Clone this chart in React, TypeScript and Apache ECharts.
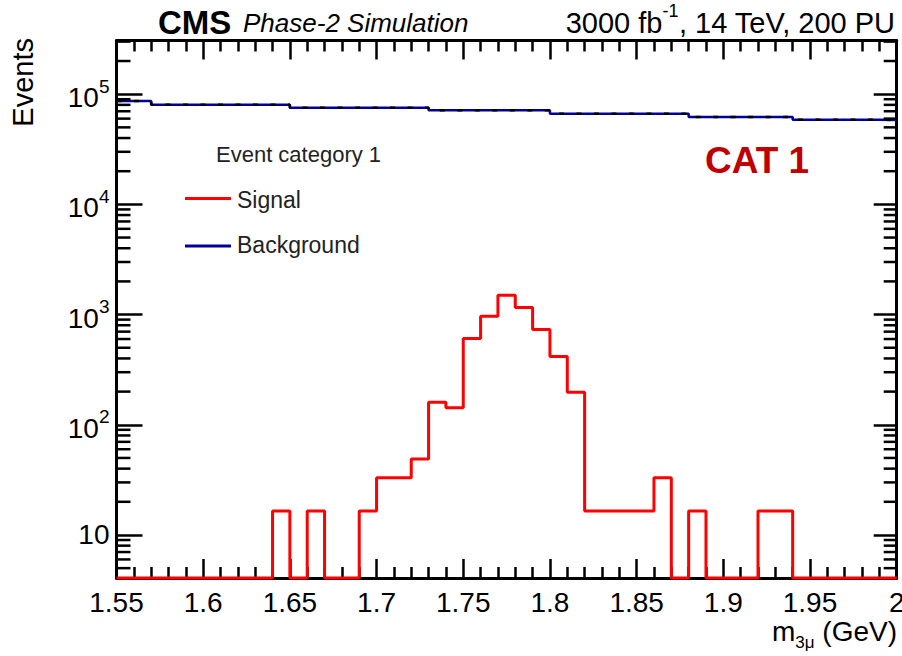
import React, { useEffect, useRef } from 'react';
import * as echarts from 'echarts';

// Bin edges (GeV), 0.01 wide bins from 1.55 to 2.00
const binEdges: number[] = [
  1.55, 1.56, 1.57, 1.58, 1.59, 1.6, 1.61, 1.62, 1.63, 1.64,
  1.65, 1.66, 1.67, 1.68, 1.69, 1.7, 1.71, 1.72, 1.73, 1.74,
  1.75, 1.76, 1.77, 1.78, 1.79, 1.8, 1.81, 1.82, 1.83, 1.84,
  1.85, 1.86, 1.87, 1.88, 1.89, 1.9, 1.91, 1.92, 1.93, 1.94,
  1.95, 1.96, 1.97, 1.98, 1.99, 2.0,
];

// Signal events per bin (45 bins)
const signalValues: number[] = [
  0, 0, 0, 0, 0, 0, 0, 0, 0, 16.5,
  0, 16.5, 0, 0, 16.5, 33, 33, 49, 160, 143,
  607, 966, 1500, 1160, 733, 417, 197, 16.5, 16.5, 16.5,
  16.5, 33, 0, 16.5, 0, 0, 0, 16.5, 16.5, 0,
  0, 0, 0, 0, 0,
];

// Background events per bin (45 bins)
const backgroundValues: number[] = [
  86500, 86500, 80300, 80300, 80300, 80300, 80300, 80300, 80300, 80300,
  75500, 75500, 75500, 75500, 75500, 75500, 75500, 75500, 71300, 71300,
  71300, 71300, 71300, 71300, 71300, 66500, 66500, 66500, 66500, 66500,
  66500, 66500, 66500, 62000, 62000, 62000, 62000, 62000, 62000, 58700,
  58700, 58700, 58700, 58700, 58200,
];

const xTickLabels: string[] = ['1.55', '1.6', '1.65', '1.7', '1.75', '1.8', '1.85', '1.9', '1.95', '2'];

const X_MIN = 1.55;
const X_MAX = 2.0;
const Y_MIN = 4.07;
const Y_MAX = 307000;

const FONT = "'Liberation Sans', Arial, Helvetica, sans-serif";

function stepData(values: number[]): number[][] {
  const pts: number[][] = values.map((v, i) => [binEdges[i], v > 0 ? v : Y_MIN]);
  const last = values[values.length - 1];
  pts.push([binEdges[binEdges.length - 1], last > 0 ? last : Y_MIN]);
  return pts;
}

function minorLogTicks(): number[] {
  const out: number[] = [];
  for (let d = 0; d <= 5; d++) {
    for (let m = 2; m <= 9; m++) {
      const v = m * Math.pow(10, d);
      if (v > Y_MIN && v < Y_MAX) out.push(v);
    }
  }
  return out;
}

export default function App() {
  const ref = useRef<HTMLDivElement>(null);

  useEffect(() => {
    if (!ref.current) return;
    const chart = echarts.init(ref.current, undefined, { renderer: 'svg' });

    const xAxisCommon = {
      type: 'value',
      min: X_MIN,
      max: X_MAX,
      interval: 0.05,
      splitLine: { show: false },
      axisLine: { show: true, onZero: false, lineStyle: { color: '#000', width: 3 } },
      axisTick: { show: true, inside: true, length: 19, lineStyle: { color: '#000', width: 2.5 } },
      minorTick: { show: true, splitNumber: 5, length: 11, lineStyle: { color: '#000', width: 2.5 } },
      minorSplitLine: { show: false },
    };

    const yAxisCommon = {
      type: 'log',
      logBase: 10,
      min: Y_MIN,
      max: Y_MAX,
      splitLine: { show: false },
      axisLine: { show: true, onZero: false, lineStyle: { color: '#000', width: 3 } },
      minorTick: { show: false },
    };

    const labelFor = (v: number) => {
      const idx = Math.round((v - X_MIN) / 0.05);
      if (Math.abs(v - (X_MIN + idx * 0.05)) > 1e-6) return '';
      return xTickLabels[idx] ?? '';
    };

    chart.setOption({
      animation: false,
      backgroundColor: '#ffffff',
      grid: {
        left: 116.5,
        top: 40.5,
        width: 780.2,
        height: 537.5,
        containLabel: false,
        outerBoundsMode: 'none',
      },
      xAxis: [
        {
          ...xAxisCommon,
          position: 'bottom',
          axisLabel: {
            show: true,
            margin: 10,
            color: '#000',
            fontFamily: FONT,
            fontSize: 28,
            formatter: labelFor,
          },
        },
        {
          ...xAxisCommon,
          position: 'top',
          axisLabel: { show: false },
        },
      ],
      yAxis: [
        {
          ...yAxisCommon,
          position: 'left',
          axisTick: { show: true, inside: true, length: 26, lineStyle: { color: '#000', width: 2.5 } },
          axisLabel: {
            show: true,
            showMinLabel: false,
            showMaxLabel: false,
            margin: 7,
            color: '#000',
            formatter: (v: number) => {
              const e = Math.log10(v);
              const r = Math.round(e);
              if (Math.abs(e - r) > 1e-6) return '';
              if (r === 1) return '{c|10}';
              return '{b|10}{s|' + r + '}';
            },
            rich: {
              c: { fontSize: 28, fontFamily: FONT, color: '#000' },
              b: { fontSize: 28, fontFamily: FONT, color: '#000', lineHeight: 35, verticalAlign: 'bottom' },
              s: { fontSize: 19, fontFamily: FONT, color: '#000', lineHeight: 19, verticalAlign: 'top' },
            },
          },
        },
        {
          ...yAxisCommon,
          position: 'right',
          axisTick: { show: true, inside: true, length: 23, lineStyle: { color: '#000', width: 2.5 } },
          axisLabel: { show: false },
        },
      ],
      series: [
        {
          name: 'Background',
          type: 'line',
          step: 'end',
          data: stepData(backgroundValues),
          symbol: 'none',
          clip: false,
          lineStyle: { color: '#000099', width: 2.5 },
          z: 3,
        },
        {
          name: 'BackgroundDash',
          type: 'line',
          step: 'end',
          data: stepData(backgroundValues),
          symbol: 'none',
          clip: false,
          silent: true,
          lineStyle: { color: '#000000', width: 2.5, type: [5, 12.5], dashOffset: 0 },
          z: 4,
        },
        {
          name: 'Signal',
          type: 'line',
          step: 'end',
          data: stepData(signalValues),
          symbol: 'none',
          clip: false,
          lineStyle: { color: '#ff0000', width: 3 },
          z: 5,
        },
        {
          name: 'minorTicks',
          type: 'custom',
          silent: true,
          clip: false,
          data: minorLogTicks().map((v) => [X_MIN, v]),
          renderItem: (params: any, api: any) => {
            const v = api.value(1);
            const pL = api.coord([X_MIN, v]);
            const pR = api.coord([X_MAX, v]);
            return {
              type: 'group',
              children: [
                {
                  type: 'line',
                  shape: { x1: pL[0], y1: pL[1], x2: pL[0] + 14, y2: pL[1] },
                  style: { stroke: '#000', lineWidth: 2.5 },
                },
                {
                  type: 'line',
                  shape: { x1: pR[0], y1: pR[1], x2: pR[0] - 13, y2: pR[1] },
                  style: { stroke: '#000', lineWidth: 2.5 },
                },
              ],
            };
          },
          z: 6,
        },
      ],
      graphic: [
        {
          type: 'text',
          x: 158,
          y: 22.5,
          style: {
            text: 'CMS',
            font: `bold 33px ${FONT}`,
            fill: '#000',
            textAlign: 'left',
            textVerticalAlign: 'middle',
          },
        },
        {
          type: 'text',
          x: 243,
          y: 23,
          style: {
            text: 'Phase-2 Simulation',
            font: `italic 26px ${FONT}`,
            fill: '#000',
            textAlign: 'left',
            textVerticalAlign: 'middle',
          },
        },
        {
          type: 'text',
          x: 895,
          y: 19.5,
          style: {
            text: '{b|3000 fb}{s|-1}{b|, 14 TeV, 200 PU}',
            textAlign: 'right',
            textVerticalAlign: 'middle',
            rich: {
              b: { fontSize: 29, fontFamily: FONT, fill: '#000', lineHeight: 35, verticalAlign: 'bottom' },
              s: { fontSize: 18, fontFamily: FONT, fill: '#000', lineHeight: 18, verticalAlign: 'top' },
            },
          },
        },
        {
          type: 'text',
          x: 22.5,
          y: 38,
          rotation: Math.PI / 2,
          style: {
            text: 'Events',
            font: `29px ${FONT}`,
            fill: '#000',
            textAlign: 'right',
            textVerticalAlign: 'middle',
          },
        },
        {
          type: 'text',
          x: 897,
          y: 634,
          style: {
            text: '{b|m}{s|3μ}{b| (GeV)}',
            textAlign: 'right',
            textVerticalAlign: 'middle',
            rich: {
              b: { fontSize: 28, fontFamily: FONT, fill: '#000', lineHeight: 34, verticalAlign: 'top' },
              s: { fontSize: 17, fontFamily: FONT, fill: '#000', lineHeight: 17, verticalAlign: 'bottom' },
            },
          },
        },
        {
          type: 'text',
          x: 216,
          y: 154,
          style: {
            text: 'Event category 1',
            font: `22px ${FONT}`,
            fill: '#222',
            textAlign: 'left',
            textVerticalAlign: 'middle',
          },
        },
        {
          type: 'line',
          shape: { x1: 185, y1: 198.5, x2: 231, y2: 198.5 },
          style: { stroke: '#ff0000', lineWidth: 3 },
        },
        {
          type: 'text',
          x: 237,
          y: 200,
          style: {
            text: 'Signal',
            font: `23px ${FONT}`,
            fill: '#222',
            textAlign: 'left',
            textVerticalAlign: 'middle',
          },
        },
        {
          type: 'line',
          shape: { x1: 185, y1: 246, x2: 231, y2: 246 },
          style: { stroke: '#000099', lineWidth: 3 },
        },
        {
          type: 'text',
          x: 237,
          y: 245,
          style: {
            text: 'Background',
            font: `23px ${FONT}`,
            fill: '#222',
            textAlign: 'left',
            textVerticalAlign: 'middle',
          },
        },
        {
          type: 'text',
          x: 705,
          y: 160,
          style: {
            text: 'CAT 1',
            font: `bold 37px ${FONT}`,
            fill: '#c00000',
            textAlign: 'left',
            textVerticalAlign: 'middle',
          },
        },
      ],
    });

    return () => {
      chart.dispose();
    };
  }, []);

  return (
    <div
      ref={ref}
      style={{ position: 'fixed', left: 0, top: 0, width: 902, height: 656, background: '#fff' }}
    />
  );
}
